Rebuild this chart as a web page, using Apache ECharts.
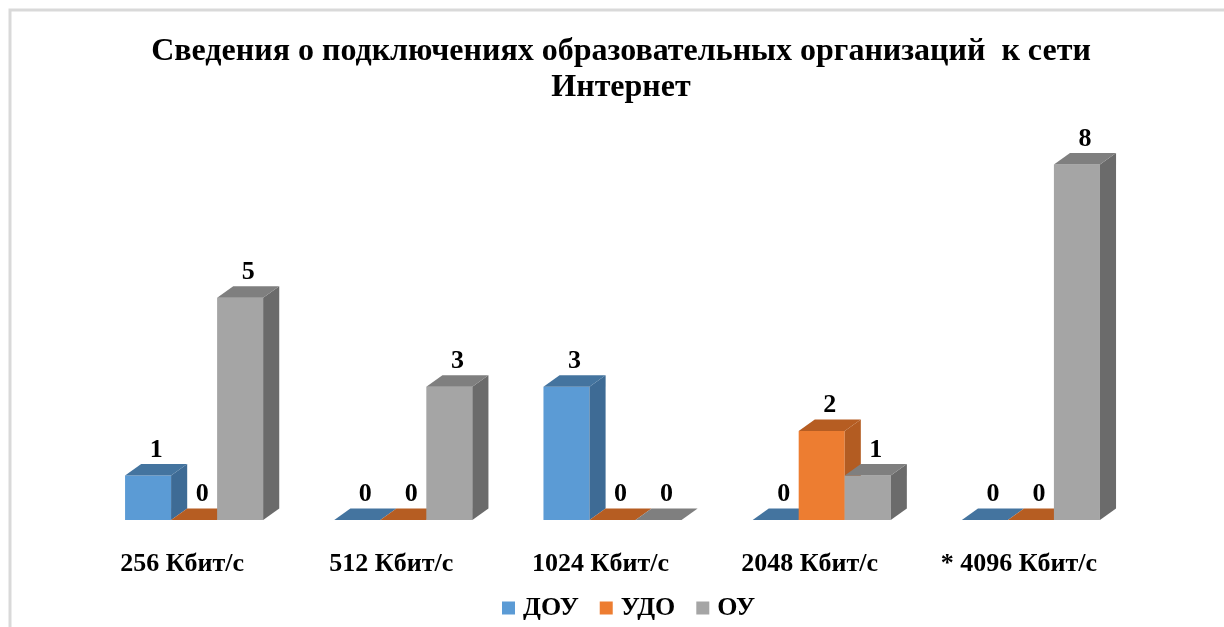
<!DOCTYPE html>
<html><head><meta charset="utf-8">
<script src="https://cdn.jsdelivr.net/npm/echarts@6/dist/echarts.min.js"></script>
<style>html,body{margin:0;padding:0;background:#fff}#c{width:1224px;height:627px}</style>
</head><body><div id="c"></div>
<script>
const categories = ['256 Кбит/с', '512 Кбит/с', '1024 Кбит/с', '2048 Кбит/с', '* 4096 Кбит/с'];
const seriesNames = ['ДОУ', 'УДО', 'ОУ'];
const douValues = [1, 0, 3, 0, 0];
const udoValues = [0, 0, 0, 2, 0];
const ouValues = [5, 3, 0, 1, 8];
const titleText = 'Сведения о подключениях образовательных организаций  к сети\nИнтернет';

const allValues = [douValues, udoValues, ouValues];
const frontColors = ['#5B9BD5', '#ED7D31', '#A5A5A5'];
const sideColors = ['#3E6B95', '#B35C22', '#6B6B6B'];
const topColors = ['#44749F', '#B65D22', '#7F7F7F'];
const FONT = '"Liberation Serif", "Times New Roman", serif';

function makeRender(s) {
  return function (params, api) {
    const idx = api.value(0);
    const val = api.value(1);
    const base = api.coord([idx, 0]);
    const topP = api.coord([idx, val]);
    const band = api.size([1, 0])[0];
    const w = band * 0.22;
    const x0 = base[0] + (s - 1.5) * w;
    const x1 = x0 + w;
    const yb = base[1], yt = topP[1];
    const dx = w * 0.35, dy = 11.5;
    const children = [];
    if (yb - yt > 0.5) {
      children.push({ type: 'rect', shape: { x: x0, y: yt, width: w, height: yb - yt }, style: { fill: frontColors[s] } });
      children.push({ type: 'polygon', shape: { points: [[x1, yt], [x1 + dx, yt - dy], [x1 + dx, yb - dy], [x1, yb]] }, style: { fill: sideColors[s] } });
    }
    children.push({ type: 'polygon', shape: { points: [[x0, yt], [x0 + dx, yt - dy], [x1 + dx, yt - dy], [x1, yt]] }, style: { fill: topColors[s] } });
    children.push({ type: 'text', style: { text: String(val), x: (x0 + x1) / 2 + dx / 2, y: yt - dy - 1, align: 'center', verticalAlign: 'bottom', font: 'bold 26px ' + FONT, fill: '#000' } });
    return { type: 'group', children: children };
  };
}

const chart = echarts.init(document.getElementById('c'), null, { renderer: 'canvas' });
chart.setOption({
  animation: false,
  backgroundColor: '#fff',
  title: {
    text: titleText,
    left: 621,
    top: 34,
    padding: 0,
    textAlign: 'center',
    textStyle: { fontFamily: FONT, fontWeight: 'bold', fontSize: 32, lineHeight: 36, color: '#000' }
  },
  graphic: [{ type: 'rect', shape: { x: 10, y: 10, width: 1300, height: 700 }, style: { fill: 'none', stroke: '#D9D9D9', lineWidth: 3 }, silent: true, z: -1 }],
  legend: {
    data: seriesNames,
    bottom: 6,
    left: 502,
    padding: 0,
    icon: 'rect',
    itemWidth: 13,
    itemHeight: 13,
    itemGap: 21,
    textStyle: { fontFamily: FONT, fontWeight: 'bold', fontSize: 26, color: '#000', padding: [0, 0, 0, 3] }
  },
  grid: { left: 89.5, right: 88.5, top: 120, bottom: 107 },
  xAxis: {
    type: 'category',
    data: categories,
    axisLine: { show: false },
    axisTick: { show: false },
    axisLabel: { margin: 31, padding: [0, 24, 0, 0], fontFamily: FONT, fontWeight: 'bold', fontSize: 26, color: '#000' }
  },
  yAxis: { type: 'value', min: 0, max: 9, show: false, splitLine: { show: false } },
  series: allValues.map(function (vals, s) {
    return {
      type: 'custom',
      name: seriesNames[s],
      itemStyle: { color: frontColors[s] },
      clip: false,
      encode: { x: 0, y: 1 },
      data: vals.map(function (v, i) { return [i, v]; }),
      renderItem: makeRender(s)
    };
  })
});
</script>
</body></html>
